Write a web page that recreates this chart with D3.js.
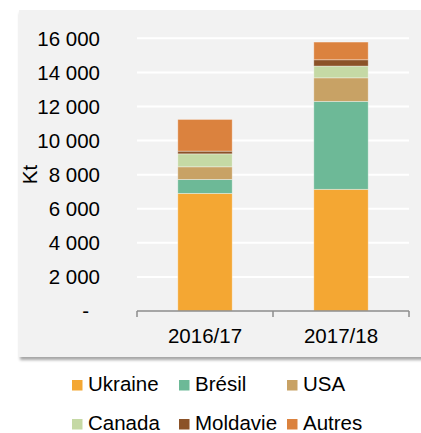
<!DOCTYPE html>
<html><head><meta charset="utf-8">
<script src="https://cdn.jsdelivr.net/npm/d3@7"></script>
<style>body{margin:0;background:#fff}svg{display:block}text{font-family:"Liberation Sans",Arial,sans-serif;fill:#000}</style>
</head><body>
<script>
const categories = ["2016/17", "2017/18"];
const seriesNames = ["Ukraine", "Brésil", "USA", "Canada", "Moldavie", "Autres"];
const Ukraine = [6900, 7140];
const Bresil = [820, 5160];
const USA = [740, 1380];
const Canada = [760, 690];
const Moldavie = [160, 370];
const Autres = [1860, 1040];
const seriesValues = [Ukraine, Bresil, USA, Canada, Moldavie, Autres];
const colors = ["#F4A733", "#6DB997", "#C8A265", "#C5D9A5", "#8B5228", "#DB823E"];
const tickValues = [0, 2000, 4000, 6000, 8000, 10000, 12000, 14000, 16000];
const tickLabels = ["-", "2 000", "4 000", "6 000", "8 000", "10 000", "12 000", "14 000", "16 000"];

const W = 421, H = 433;
const svg = d3.select("body").append("svg").attr("width", W).attr("height", H);
const defs = svg.append("defs");
const f = defs.append("filter").attr("id", "sh").attr("x", "-5%").attr("y", "-5%").attr("width", "110%").attr("height", "115%");
f.append("feDropShadow").attr("dx", 1).attr("dy", 3).attr("stdDeviation", 1.8).attr("flood-color", "#000").attr("flood-opacity", 0.35);

svg.append("rect").attr("x", 19).attr("y", 10).attr("width", 410).attr("height", 347)
  .attr("fill", "#F2F2F2").attr("filter", "url(#sh)");

const x0 = 137, x1 = 409, yTop = 38.3, yBot = 311;
const x = d3.scaleBand().domain(categories).range([x0, x1]).paddingInner(0.6).paddingOuter(0.3);
const y = d3.scaleLinear().domain([0, 16000]).range([yBot, yTop]);

// gridlines
svg.append("g").selectAll("line").data(tickValues.slice(1)).join("line")
  .attr("x1", x0).attr("x2", x1).attr("y1", d => y(d)).attr("y2", d => y(d))
  .attr("stroke", "#fff").attr("stroke-width", 2);

// stacked bars
const table = categories.map((c, i) => {
  const o = {cat: c};
  seriesNames.forEach((s, j) => o[s] = seriesValues[j][i]);
  return o;
});
const stack = d3.stack().keys(seriesNames)(table);
svg.append("g").selectAll("g").data(stack).join("g")
  .attr("fill", (d, i) => colors[i])
  .selectAll("rect").data(d => d).join("rect")
  .attr("x", d => x(d.data.cat)).attr("width", x.bandwidth())
  .attr("y", d => y(d[1])).attr("height", d => y(d[0]) - y(d[1]))
  .attr("stroke", "rgba(255,255,255,0.45)").attr("stroke-width", 0.8);

// x axis
const xa = svg.append("g");
xa.append("line").attr("x1", x0).attr("x2", x1).attr("y1", yBot).attr("y2", yBot)
  .attr("stroke", "#8C8C8C").attr("stroke-width", 1.5);
const bounds = [x0, x0 + (x1 - x0) / 2, x1];
xa.selectAll("line.t").data(bounds).join("line").attr("class", "t")
  .attr("x1", d => d).attr("x2", d => d).attr("y1", yBot).attr("y2", yBot + 6)
  .attr("stroke", "#8C8C8C").attr("stroke-width", 1.5);
xa.selectAll("text").data(categories).join("text")
  .attr("x", d => x(d) + x.bandwidth() / 2).attr("y", 343)
  .attr("text-anchor", "middle").attr("font-size", "20.5px").text(d => d);

// y axis labels
svg.append("g").selectAll("text").data(tickValues).join("text")
  .attr("x", (d, i) => i === 0 ? 89 : 100).attr("y", d => y(d)).attr("dy", "0.36em")
  .attr("text-anchor", "end").attr("font-size", "20.5px").text((d, i) => tickLabels[i]);

svg.append("text").attr("transform", "translate(36.5,174.5) rotate(-90)")
  .attr("text-anchor", "middle").attr("font-size", "20.5px").text("Kt");

// legend
const legX = [72, 179, 287], legY = [380, 419];
const lg = svg.append("g").selectAll("g").data(seriesNames).join("g")
  .attr("transform", (d, i) => `translate(${legX[i % 3]},${legY[Math.floor(i / 3)]})`);
lg.append("rect").attr("width", 10.5).attr("height", 10.5).attr("fill", (d, i) => colors[i]);
lg.append("text").attr("x", 16).attr("y", 11).attr("font-size", "20.5px").text(d => d);
</script>
</body></html>
